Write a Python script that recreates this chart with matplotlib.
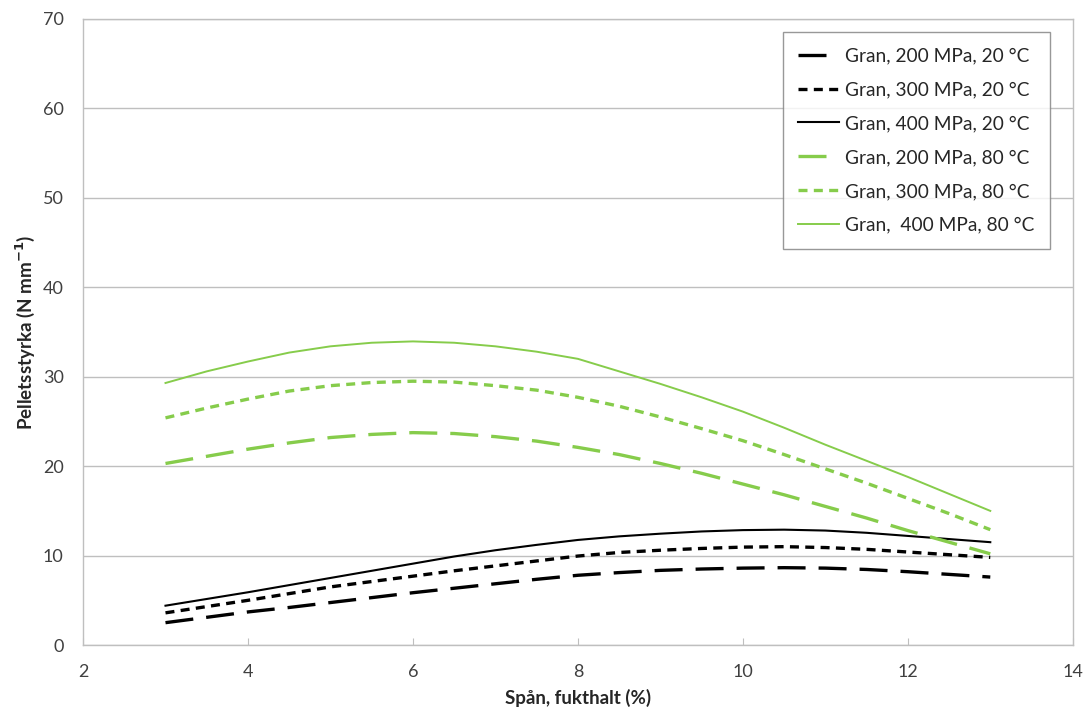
import matplotlib
matplotlib.use("Agg")
import matplotlib.pyplot as plt

plt.rcParams['font.family'] = ['Lato', 'DejaVu Sans']

# fukthalt (%)
fukthalt = [3, 3.5, 4, 4.5, 5, 5.5, 6, 6.5, 7, 7.5, 8, 8.5, 9, 9.5, 10, 10.5, 11, 11.5, 12, 12.5, 13]

# pelletsstyrka, 20 °C
gran_200_20 = [2.5, 3.1, 3.7, 4.2, 4.75, 5.3, 5.85, 6.35, 6.85, 7.35, 7.8, 8.1, 8.35, 8.5, 8.6, 8.65, 8.6, 8.45, 8.2, 7.9, 7.6]
gran_300_20 = [3.6, 4.3, 5.0, 5.75, 6.5, 7.1, 7.7, 8.3, 8.85, 9.4, 9.95, 10.35, 10.6, 10.8, 10.95, 11.0, 10.9, 10.7, 10.4, 10.1, 9.8]
gran_400_20 = [4.4, 5.15, 5.9, 6.7, 7.5, 8.3, 9.1, 9.9, 10.6, 11.2, 11.75, 12.15, 12.45, 12.7, 12.85, 12.9, 12.8, 12.55, 12.2, 11.85, 11.5]

# pelletsstyrka, 80 °C
gran_200_80 = [20.3, 21.1, 21.9, 22.6, 23.2, 23.55, 23.75, 23.65, 23.3, 22.8, 22.1, 21.3, 20.3, 19.2, 18.0, 16.8, 15.5, 14.2, 12.8, 11.5, 10.2]
gran_300_80 = [25.4, 26.5, 27.5, 28.4, 29.0, 29.35, 29.5, 29.4, 29.0, 28.5, 27.7, 26.7, 25.5, 24.2, 22.85, 21.3, 19.7, 18.1, 16.4, 14.7, 12.9]
gran_400_80 = [29.3, 30.6, 31.7, 32.7, 33.4, 33.8, 33.95, 33.8, 33.4, 32.8, 32.0, 30.6, 29.2, 27.7, 26.1, 24.3, 22.4, 20.6, 18.8, 16.9, 15.0]

etiketter = ["Gran, 200 MPa, 20 °C", "Gran, 300 MPa, 20 °C", "Gran, 400 MPa, 20 °C",
             "Gran, 200 MPa, 80 °C", "Gran, 300 MPa, 80 °C", "Gran,  400 MPa, 80 °C"]

gron = '#86CC4B'
lang = (8.4, 3.9)
kort = (2.7, 1.9)

fig = plt.figure(figsize=(10.88, 7.22), dpi=100)
ax = fig.add_axes([0.0763, 0.1066, 0.9097, 0.8671])

ax.plot(fukthalt, gran_200_20, color='black', lw=2.4, dashes=lang, label=etiketter[0])
ax.plot(fukthalt, gran_300_20, color='black', lw=2.4, dashes=kort, label=etiketter[1])
ax.plot(fukthalt, gran_400_20, color='black', lw=1.5, label=etiketter[2])
ax.plot(fukthalt, gran_200_80, color=gron, lw=2.4, dashes=lang, label=etiketter[3])
ax.plot(fukthalt, gran_300_80, color=gron, lw=2.4, dashes=kort, label=etiketter[4])
ax.plot(fukthalt, gran_400_80, color=gron, lw=1.4, label=etiketter[5])

ax.set_xlim(2, 14)
ax.set_ylim(0, 70)
ax.set_xticks(range(2, 15, 2))
ax.set_yticks(range(0, 71, 10))
ax.grid(axis='y', color='#BFBFBF', lw=1)
ax.set_axisbelow(True)
for s in ax.spines.values():
    s.set_color('#BFBFBF')
    s.set_linewidth(1)
ax.tick_params(axis='x', direction='in', length=5, color='#BFBFBF', pad=14, labelsize=13, labelcolor='#404040')
ax.tick_params(axis='y', length=0, pad=14, labelsize=13, labelcolor='#404040')

ax.set_xlabel("Spån, fukthalt (%)", fontsize=13.5, fontweight='bold', color='#262626', labelpad=6)
ax.set_ylabel("Pelletsstyrka (N mm$^{\\mathbf{-1}}$)", fontsize=13.5, fontweight='bold', color='#262626', labelpad=4)

leg = ax.legend(loc='upper right', bbox_to_anchor=(0.977, 0.979), fontsize=13.8, frameon=True,
                fancybox=False, edgecolor='#7F7F7F', handlelength=2.1, labelspacing=0.88,
                borderpad=0.8, handletextpad=0.35, borderaxespad=0)
leg.get_frame().set_linewidth(1)
for t in leg.get_texts():
    t.set_color('#262626')

fig.savefig('out.png', dpi=100)
